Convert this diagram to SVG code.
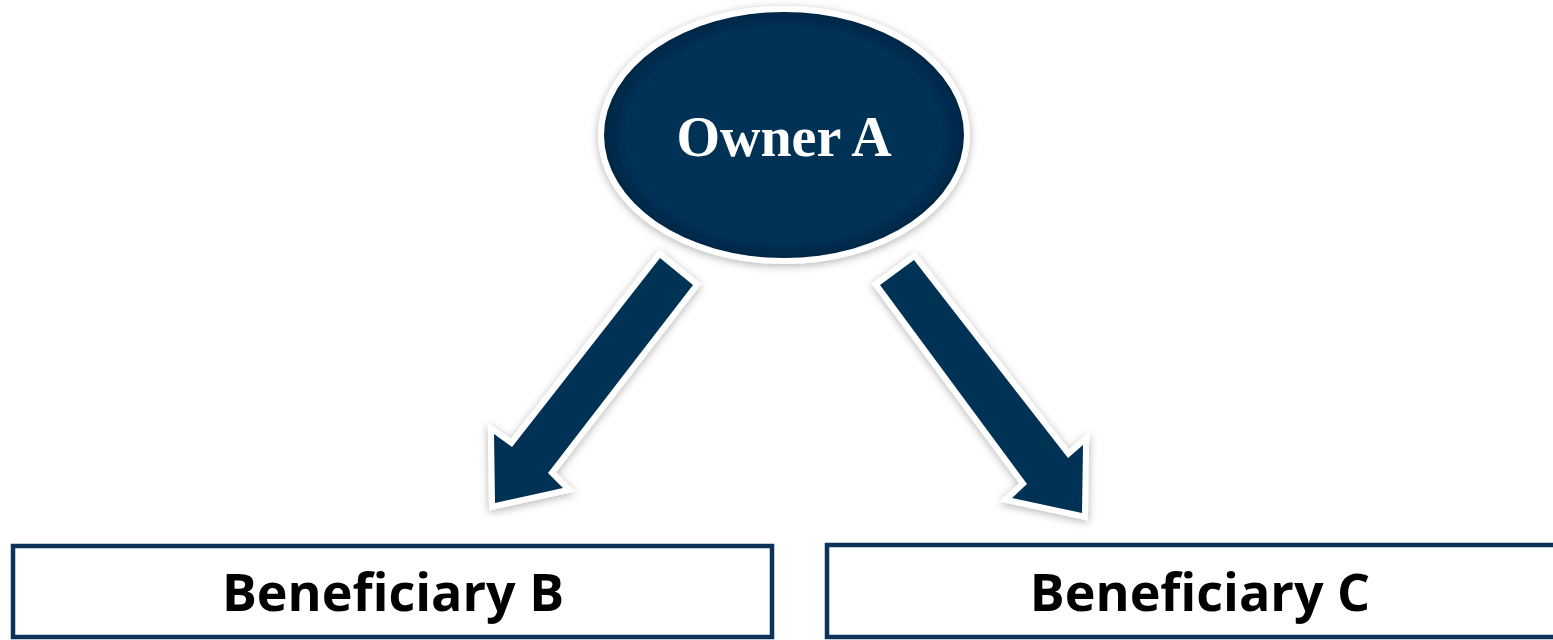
<svg xmlns="http://www.w3.org/2000/svg" width="1553" height="640" viewBox="0 0 1553 640">
  <defs>
    <filter id="shadow" x="-20%" y="-20%" width="140%" height="140%">
      <feDropShadow dx="0" dy="2" stdDeviation="4" flood-color="#000" flood-opacity="0.3"/>
    </filter>
    <radialGradient id="ellFill" cx="50%" cy="50%" r="50%">
      <stop offset="0.88" stop-color="#033056"/>
      <stop offset="1" stop-color="#022745"/>
    </radialGradient>
  </defs>
  <style>
    .shape { fill: #043056; stroke: #ffffff; stroke-width: 12; stroke-linejoin: miter; paint-order: stroke fill; filter: url(#shadow); }
    .box { fill: #ffffff; stroke: #0b3357; stroke-width: 4.5; }
    .owner { font-family: "Liberation Serif", "Times New Roman", serif; font-weight: bold; font-size: 56px; fill: #ffffff; }
    .benef { font-family: "Open Sans", "Noto Sans", sans-serif; font-weight: bold; font-size: 52px; fill: #000000; }
  </style>
  <rect width="1553" height="640" fill="#ffffff"/>

  <g id="owner-a">
    <ellipse cx="784" cy="135" rx="180" ry="123" class="shape" style="fill:url(#ellFill)"/>
    <text x="784" y="156" text-anchor="middle" class="owner">Owner A</text>
  </g>

  <g id="connectors">
    <polygon class="shape" points="660,258 693,285 548,473 563,488 495,503 494,434 512,447"/>
    <polygon class="shape" points="914,260 1068,458 1083,445 1082,513 1012,498 1027,484 880,285"/>
  </g>

  <g id="beneficiary-b">
    <rect x="13" y="546" width="759" height="91" class="box"/>
    <text x="393" y="611" text-anchor="middle" class="benef">Beneficiary B</text>
  </g>

  <g id="beneficiary-c">
    <rect x="827" y="545" width="760" height="92" class="box"/>
    <text x="1200" y="611" text-anchor="middle" class="benef">Beneficiary C</text>
  </g>
</svg>
